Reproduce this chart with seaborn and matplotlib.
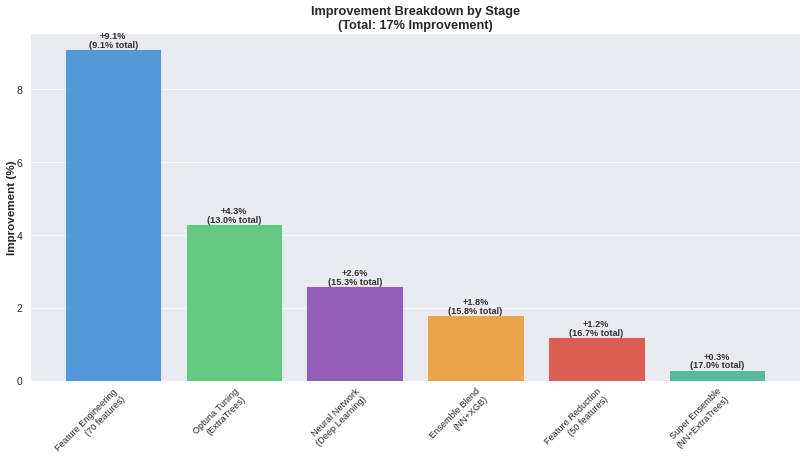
import matplotlib
matplotlib.use('Agg')
import matplotlib.pyplot as plt
import seaborn as sns
import pandas as pd

# Stage data
stages = ['Feature Engineering\n(70 features)', 'Optuna Tuning\n(ExtraTrees)',
          'Neural Network\n(Deep Learning)', 'Ensemble Blend\n(NN+XGB)',
          'Feature Reduction\n(50 features)', 'Super Ensemble\n(NN+ExtraTrees)']
improvements = [9.1, 4.3, 2.6, 1.8, 1.2, 0.3]
cumulative = [9.1, 13.0, 15.3, 15.8, 16.7, 17.0]
colors = ['#3a8ad6', '#4cc46a', '#8447ad', '#e9972a', '#d94536', '#3fb190']

sns.set_theme(style='darkgrid')
plt.rcParams['font.family'] = ['Liberation Sans', 'DejaVu Sans']

df = pd.DataFrame({'Stage': stages, 'Improvement': improvements})

fig, ax = plt.subplots(figsize=(14, 8), dpi=806 / 14)
sns.barplot(data=df, x='Stage', y='Improvement', hue='Stage', palette=colors,
            saturation=1, alpha=0.85, legend=False, ax=ax, width=0.8,
            edgecolor='white', linewidth=1)

# Labels on top of bars
for i, (imp, cum) in enumerate(zip(improvements, cumulative)):
    ax.text(i, imp, f'+{imp}%\n({cum}% total)', ha='center', va='bottom',
            fontsize=11.5, fontweight='bold', color='#333333', linespacing=0.95)

ax.set_xlim(-0.69, 5.69)
ax.set_ylim(0, 9.555)
ax.set_xlabel('')
ax.set_ylabel('Improvement (%)', fontsize=14.5, fontweight='bold')
ax.yaxis.set_label_coords(-0.016, 0.5)
ax.set_title('Improvement Breakdown by Stage\n(Total: 17% Improvement)',
             fontsize=16, fontweight='bold', pad=5)
plt.setp(ax.get_xticklabels(), rotation=45, ha='right', rotation_mode='anchor', fontsize=11.5)
ax.tick_params(axis='y', labelsize=13, pad=3)
ax.tick_params(axis='x', pad=1)

fig.subplots_adjust(left=0.037, right=0.993, top=0.928, bottom=0.172)
plt.savefig('out.png', dpi=806 / 14)
